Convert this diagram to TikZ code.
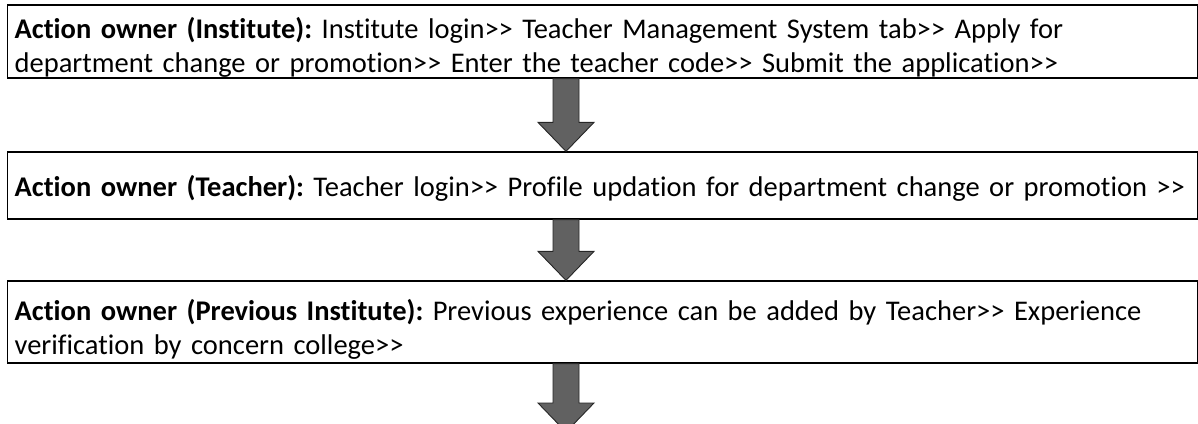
\documentclass[tikz,border=0pt]{standalone}
\usepackage{fontspec}
\setmainfont{Carlito}[Ligatures={TeXOff,NoCommon}]
\usetikzlibrary{calc}

\tikzset{
  stepbox/.style={draw=black, line width=1.3pt, rectangle, anchor=west,
    inner xsep=7pt, inner ysep=0pt, text width=1176pt, align=left,
    font=\fontsize{28.5}{34}\selectfont\frenchspacing},
  blockarrow/.style={fill=black!62, draw=black!85, line width=0.9pt, line join=miter},
}

% Block arrow pointing down, from the first point to the second (its tip)
\newcommand\flowarrow[2]{%
  \filldraw[blockarrow] let \p1=(#1), \p2=(#2) in
    (\x1-13pt,\y1) -- (\x1+13pt,\y1) -- (\x1+13pt,\y2+29pt) --
    (\x1+28pt,\y2+29pt) -- (\x1,\y2) -- (\x1-28pt,\y2+29pt) --
    (\x1-13pt,\y2+29pt) -- cycle;}

\begin{document}
\begin{tikzpicture}[x=1pt, y=-1pt]
  \useasboundingbox (0,0) rectangle (1198,423);
  \clip (0,0) rectangle (1198,423);

  \coordinate (axis) at (566,0);

  \node[stepbox, minimum height=73pt, text height=20pt, text depth=27pt] (b1) at (7,41.5)
    {\textbf{Action owner (Institute):} Institute login>> Teacher Management System tab>> Apply for\\
     department change or promotion>> Enter the teacher code>> Submit the application>>};

  \node[stepbox, minimum height=67pt, text height=21pt, text depth=0pt] (b2) at (7,185.5)
    {\textbf{Action owner (Teacher):} Teacher login>> Profile updation for department change or promotion >>};

  \node[stepbox, minimum height=82pt, text height=20pt, text depth=24pt] (b3) at (7,322)
    {\textbf{Action owner (Previous Institute):} Previous experience can be added by Teacher>> Experience\\
     verification by concern college>>};

  \coordinate (next) at (566,432);

  \flowarrow{b1.south -| axis}{b2.north -| axis}
  \flowarrow{b2.south -| axis}{b3.north -| axis}
  \flowarrow{b3.south -| axis}{next}
\end{tikzpicture}
\end{document}
